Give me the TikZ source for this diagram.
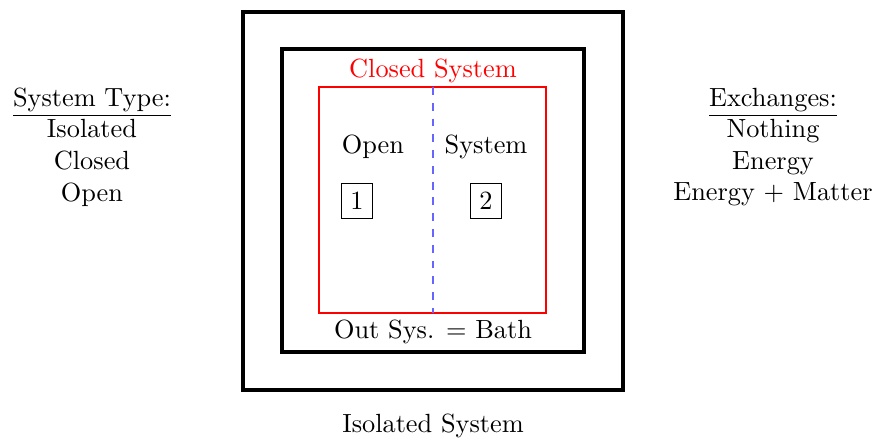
\documentclass[tikz,border=0pt]{standalone}
\begin{document}
\begin{tikzpicture}[x=0.3802pt,y=-0.3802pt,
  lbl/.style={inner sep=0pt,font=\fontsize{10}{12}\selectfont},
  numbox/.style={draw,thin,inner sep=0pt,minimum width=31\pgflinewidth,minimum width=11.8pt,minimum height=13.3pt,font=\fontsize{10}{12}\selectfont},
  col/.style={align=center,inner sep=0pt,font=\fontsize{10}{12}\selectfont}]
\useasboundingbox (0,0) rectangle (876,439);
% boxes
\draw[line width=1.6pt] (243,12) rectangle (623,390);
\draw[line width=1.2pt] (282,49) rectangle (584,352);
\draw[red,line width=0.8pt] (319,87) rectangle (546,313);
\coordinate (dtop) at (433,87);
\coordinate (dbot) at (433,313);
\draw[blue!60,dashed,line width=0.6pt] (dtop) -- (dbot);
% labels
\node[lbl,red] (closed) at (433,71) {Closed System};
\node[lbl] (open) at (373,147) {Open};
\node[lbl] (sys) at (486,147) {System};
\node[numbox] (b1) at (357,201) {1};
\node[numbox] (b2) at (486,201) {2};
\node[lbl] (bath) at (433,332) {Out Sys. = Bath};
\node[lbl] (iso) at (433,426) {Isolated System};
\node[col] (types) at (92,147) {\underline{System Type:}\\Isolated\\Closed\\Open};
\node[col] (exch) at (773,147) {\underline{Exchanges:}\\Nothing\\Energy\\Energy + Matter};
\end{tikzpicture}
\end{document}
